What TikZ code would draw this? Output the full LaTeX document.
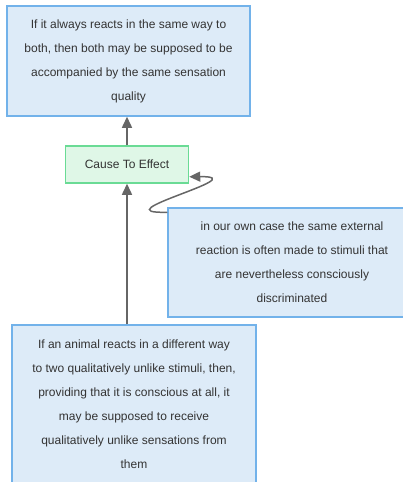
\documentclass[tikz,border=0pt]{standalone}
\usepackage{fontspec}
\setmainfont{Liberation Sans}
\usetikzlibrary{arrows.meta,calc}
\definecolor{bluefill}{HTML}{DDEBF8}
\definecolor{blueedge}{HTML}{72B2EA}
\definecolor{greenfill}{HTML}{DFF7E7}
\definecolor{greenedge}{HTML}{6ADB95}
\definecolor{txt}{HTML}{333333}
\definecolor{conn}{HTML}{666666}
\tikzset{
  bluebox/.style={draw=blueedge, fill=bluefill, line width=1.5pt, align=center, text=txt,
    font=\fontsize{12}{24}\selectfont, inner sep=0pt},
  greenbox/.style={draw=greenedge, fill=greenfill, line width=1.5pt, align=center, text=txt,
    font=\fontsize{12}{24}\selectfont, inner sep=0pt},
  conn/.style={draw=conn, line width=1.5pt, -{Triangle[length=11pt,width=10pt]}}
}
\begin{document}
\begin{tikzpicture}[x=1pt,y=-1pt]
\useasboundingbox (0,0) rectangle (403,482);
\clip (0,0) rectangle (403,482);
\node[bluebox, minimum width=243pt, minimum height=110pt] (top) at (128.5,61)
  {If it always reacts in the same way to\\both, then both may be supposed to be\\accompanied by the same sensation\\quality};
\node[greenbox, minimum width=123pt, minimum height=37pt] (ce) at (127,164.5) {Cause To Effect};
\node[bluebox, minimum width=248pt, minimum height=109pt] (rb) at (292,262.5)
  {in our own case the same external\\reaction is often made to stimuli that\\are nevertheless consciously\\discriminated};
\node[bluebox, minimum width=244pt, minimum height=158pt] (bb) at (134,404)
  {If an animal reacts in a different way\\to two qualitatively unlike stimuli, then,\\providing that it is conscious at all, it\\may be supposed to receive\\qualitatively unlike sensations from\\them};
\draw[conn] (ce.north) -- (ce.north |- top.south);
\draw[conn] (bb.north -| ce.south) -- (ce.south);
\draw[conn] ($(rb.north west)+(0,5)$) .. controls (98,214) and (257,176) .. ($(ce.south east)+(0,-7)$);
\end{tikzpicture}
\end{document}
